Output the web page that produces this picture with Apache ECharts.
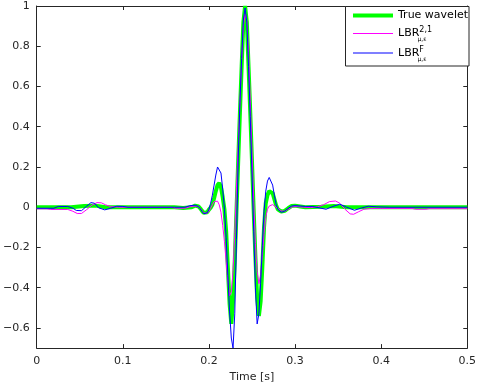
<!DOCTYPE html>
<html>
<head>
<meta charset="utf-8">
<script src="https://cdn.jsdelivr.net/npm/echarts@6/dist/echarts.min.js"></script>
<style>
html,body{margin:0;padding:0;background:#fff;}
#chart{width:479px;height:388px;}
</style>
</head>
<body>
<div id="chart"></div>
<script>
// ---- data ----
const xTicks = [0, 0.1, 0.2, 0.3, 0.4, 0.5];
const yTicks = [-0.6, -0.4, -0.2, 0, 0.2, 0.4, 0.6, 0.8, 1];

const trueTime = [0, 0.04, 0.055, 0.068, 0.08, 0.16, 0.17, 0.18, 0.184, 0.188,
  0.190, 0.192, 0.194, 0.196, 0.198, 0.200, 0.202, 0.204, 0.206, 0.208,
  0.210, 0.212, 0.214, 0.216, 0.218, 0.220, 0.222, 0.224, 0.226, 0.228,
  0.230, 0.232, 0.234, 0.236, 0.238, 0.240, 0.242, 0.244, 0.246, 0.248,
  0.250, 0.252, 0.254, 0.256, 0.258, 0.260, 0.262, 0.264, 0.266, 0.268,
  0.270, 0.272, 0.274, 0.276, 0.278, 0.280,
  0.284, 0.288, 0.292, 0.296, 0.300, 0.306, 0.312, 0.33, 0.345, 0.36, 0.5];
const trueVals = [0, 0, 0.006, 0.008, 0, 0, -0.004, 0, 0.008, 0.004,
  -0.006, -0.018, -0.028, -0.031, -0.025, -0.012, -0.002, 0.012, 0.045, 0.08,
  0.11, 0.12, 0.10, 0.05, -0.01, -0.12, -0.30, -0.48, -0.58, -0.47,
  -0.27, -0.02, 0.23, 0.47, 0.70, 0.92, 1.0, 0.92, 0.70, 0.47,
  0.23, -0.02, -0.25, -0.45, -0.54, -0.47, -0.30, -0.10, 0.02, 0.06,
  0.08, 0.085, 0.07, 0.04, 0.01, -0.01,
  -0.022, -0.018, -0.005, 0.006, 0.008, 0.004, 0, 0.003, 0.006, 0, 0];

const lbr21Time = [0, 0.012, 0.016, 0.036, 0.042, 0.047, 0.052, 0.058, 0.064, 0.070,
  0.075, 0.080, 0.086, 0.095, 0.155, 0.162, 0.172, 0.178, 0.184, 0.188,
  0.190, 0.192, 0.194, 0.196, 0.198, 0.200, 0.202, 0.204, 0.206, 0.208,
  0.210, 0.212, 0.214, 0.216, 0.218, 0.220, 0.222, 0.224, 0.226, 0.228,
  0.230, 0.232, 0.234, 0.236, 0.238, 0.240, 0.242, 0.244, 0.246, 0.248,
  0.250, 0.252, 0.254, 0.256, 0.258, 0.260, 0.262, 0.264, 0.266, 0.268,
  0.270, 0.272, 0.274, 0.276, 0.278, 0.280,
  0.284, 0.288, 0.292, 0.296, 0.300, 0.310, 0.318, 0.326, 0.333, 0.340,
  0.347, 0.352, 0.358, 0.364, 0.368, 0.374, 0.380, 0.388, 0.40, 0.436,
  0.44, 0.452, 0.456, 0.5];
const lbr21Vals = [-0.008, -0.008, -0.011, -0.011, -0.02, -0.031, -0.031, -0.012, 0.01, 0.023,
  0.022, 0.012, 0.003, 0, 0, -0.005, -0.005, 0.002, 0.006, 0.003,
  -0.006, -0.018, -0.028, -0.032, -0.03, -0.02, -0.005, 0.012, 0.028, 0.035,
  0.03, 0.012, -0.025, -0.09, -0.17, -0.27, -0.37, -0.44, -0.42, -0.32,
  -0.13, 0.10, 0.31, 0.52, 0.73, 0.90, 0.96, 0.93, 0.77, 0.53,
  0.28, 0.03, -0.18, -0.32, -0.38, -0.34, -0.24, -0.13, -0.05, -0.01,
  0.006, 0.012, 0.013, 0.008, 0.0, -0.008,
  -0.018, -0.02, -0.01, 0.0, 0.004, 0.0, -0.002, 0.002, 0.012, 0.028,
  0.031, 0.02, -0.01, -0.033, -0.035, -0.022, -0.01, -0.006, -0.006, -0.006,
  -0.01, -0.01, -0.007, -0.007];

const lbrFTime = [0, 0.02, 0.025, 0.036, 0.042, 0.046, 0.052, 0.058, 0.063, 0.067,
  0.072, 0.079, 0.086, 0.093, 0.100, 0.106, 0.16, 0.172, 0.178, 0.184, 0.188,
  0.190, 0.192, 0.194, 0.196, 0.198, 0.200, 0.202, 0.204, 0.206, 0.208,
  0.210, 0.212, 0.214, 0.216, 0.218, 0.220, 0.222, 0.224, 0.226, 0.228,
  0.230, 0.232, 0.234, 0.236, 0.238, 0.240, 0.242, 0.244, 0.246, 0.248,
  0.250, 0.252, 0.254, 0.256, 0.258, 0.260, 0.262, 0.264, 0.266, 0.268,
  0.270, 0.272, 0.274, 0.276, 0.278, 0.280,
  0.284, 0.288, 0.292, 0.296, 0.300, 0.306, 0.312, 0.320, 0.328, 0.336,
  0.344, 0.352, 0.360, 0.369, 0.377, 0.385, 0.395, 0.41, 0.5];
const lbrFVals = [-0.005, -0.005, 0.004, 0.004, -0.005, -0.016, -0.017, 0.005, 0.023, 0.02,
  -0.003, -0.013, -0.005, 0.005, 0.004, 0, 0, 0, 0.008, 0.010, 0.003,
  -0.008, -0.02, -0.032, -0.036, -0.028, -0.01, 0.02, 0.06, 0.11, 0.16,
  0.20, 0.205, 0.17, 0.09, -0.01, -0.15, -0.34, -0.52, -0.65, -0.70,
  -0.53, -0.16, 0.24, 0.52, 0.74, 0.93, 0.99, 0.92, 0.70, 0.45,
  0.17, -0.12, -0.40, -0.58, -0.53, -0.38, -0.19, -0.02, 0.08, 0.13,
  0.148, 0.145, 0.11, 0.06, 0.015, -0.01,
  -0.025, -0.02, -0.006, 0.006, 0.008, 0.006, 0.004, 0.004, -0.003, -0.01,
  0.004, 0.015, 0.0, -0.015, -0.004, 0.005, 0.002, 0, 0];

const seriesNames = ['True wavelet', 'LBR21', 'LBRF'];
// ---------------------------------------

const pairs = (ts, vs) => ts.map((t, i) => [t, vs[i]]);
const axisColor = '#262626';
const font = 'DejaVu Sans';
const fmtNum = v => {
  const s = String(Math.round(v * 1000) / 1000);
  return s.replace('-', '\u2212');
};

const chart = echarts.init(document.getElementById('chart'), null, {renderer: 'canvas'});

const commonX = {
  type: 'value', min: 0, max: 0.5, interval: 0.1,
  axisLine: {show: true, onZero: false, lineStyle: {color: axisColor, width: 1}},
  axisTick: {show: true, inside: true, length: 4, lineStyle: {color: axisColor}},
  splitLine: {show: false}
};
const commonY = {
  type: 'value', min: -0.7, max: 1,
  axisLine: {show: true, onZero: false, lineStyle: {color: axisColor, width: 1}},
  axisTick: {show: true, inside: true, length: 4, customValues: yTicks, lineStyle: {color: axisColor}},
  splitLine: {show: false}
};

const TEXT_H = 15;
const richText = {
  fontFamily: font, fontSize: 11, color: '#000',
  rich: {
    b: {fontFamily: font, fontSize: 11, lineHeight: TEXT_H, color: '#000'},
    s: {fontFamily: font, fontSize: 8, lineHeight: 8, verticalAlign: 'top', color: '#000'}
  }
};

function legendItem(center, h, name, color, fmt) {
  const l = {
    orient: 'horizontal', left: 353, top: center - TEXT_H / 2, padding: 0,
    itemWidth: 40, itemHeight: h, itemGap: 0,
    selectedMode: false, icon: 'rect',
    itemStyle: {color: color, borderWidth: 0},
    data: [{name: name, icon: 'rect', itemStyle: {color: color, borderWidth: 0}}],
    textStyle: fmt ? richText : {fontFamily: font, fontSize: 11, lineHeight: TEXT_H, color: '#000'}
  };
  if (fmt) l.formatter = () => fmt;
  return l;
}

const option = {
  animation: false,
  backgroundColor: '#fff',
  grid: {left: 35, right: 10, top: 6, bottom: 39, containLabel: false},
  xAxis: [
    Object.assign({}, commonX, {
      position: 'bottom',
      name: 'Time [s]', nameLocation: 'middle', nameGap: 23,
      nameTextStyle: {fontFamily: font, fontSize: 11, color: axisColor},
      axisLabel: {show: true, margin: 8, fontFamily: font, fontSize: 11, color: axisColor,
        customValues: xTicks, formatter: fmtNum}
    }),
    Object.assign({}, commonX, {position: 'top', axisLabel: {show: false}})
  ],
  yAxis: [
    Object.assign({}, commonY, {
      position: 'left',
      axisLabel: {show: true, margin: 7, fontFamily: font, fontSize: 11, color: axisColor,
        customValues: yTicks, formatter: fmtNum}
    }),
    Object.assign({}, commonY, {position: 'right', axisLabel: {show: false}})
  ],
  legend: [
    legendItem(15.5, 4, seriesNames[0], '#00ff00', null),
    legendItem(33.5, 1, seriesNames[1], '#ff00ff', '{b|LBR}{s|2,1}'),
    legendItem(53, 1, seriesNames[2], '#0000ff', '{b|LBR}{s|F}')
  ],
  graphic: [
    {type: 'rect', z: 3, shape: {x: 345.5, y: 6.5, width: 123.5, height: 59.5},
      style: {fill: '#fff', stroke: axisColor, lineWidth: 1}},
    {type: 'text', z: 10, x: 417.5, y: 39.5,
      style: {text: '\u03bc,\u03b5', font: '6px "DejaVu Sans"', fill: '#000', verticalAlign: 'middle'}},
    {type: 'text', z: 10, x: 417.5, y: 59.5,
      style: {text: '\u03bc,\u03b5', font: '6px "DejaVu Sans"', fill: '#000', verticalAlign: 'middle'}}
  ],
  series: [
    {name: seriesNames[0], type: 'line', xAxisIndex: 0, yAxisIndex: 0,
      data: pairs(trueTime, trueVals), showSymbol: false, symbol: 'none',
      lineStyle: {color: '#00ff00', width: 4}, itemStyle: {color: '#00ff00'}},
    {name: seriesNames[1], type: 'line', xAxisIndex: 0, yAxisIndex: 0,
      data: pairs(lbr21Time, lbr21Vals), showSymbol: false, symbol: 'none',
      lineStyle: {color: '#ff00ff', width: 1}, itemStyle: {color: '#ff00ff'}},
    {name: seriesNames[2], type: 'line', xAxisIndex: 0, yAxisIndex: 0,
      data: pairs(lbrFTime, lbrFVals), showSymbol: false, symbol: 'none',
      lineStyle: {color: '#0000ff', width: 1}, itemStyle: {color: '#0000ff'}}
  ]
};
chart.setOption(option);
</script>
</body>
</html>
